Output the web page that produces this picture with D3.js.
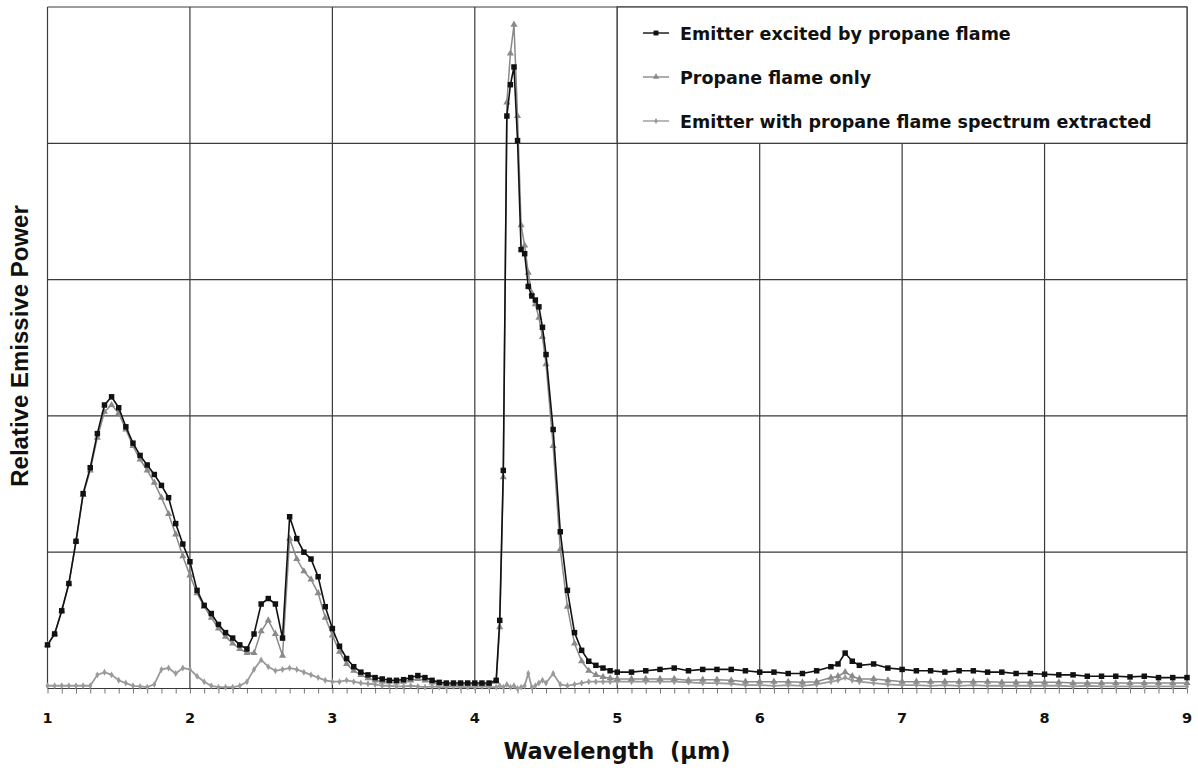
<!DOCTYPE html>
<html>
<head>
<meta charset="utf-8">
<script src="https://cdn.jsdelivr.net/npm/d3@7"></script>
<style>
  html, body { margin: 0; padding: 0; background: #fff; }
  svg { display: block; }
</style>
</head>
<body>
<svg id="chart" width="1198" height="774"></svg>
<script>
// ---------------- DATA ----------------
const wavelength = [
  1.00,1.05,1.10,1.15,1.20,1.25,1.30,1.35,1.40,1.45,1.50,1.55,1.60,1.65,1.70,1.75,1.80,1.85,1.90,1.95,
  2.00,2.05,2.10,2.15,2.20,2.25,2.30,2.35,2.40,2.45,2.50,2.55,2.60,2.65,2.70,2.75,2.80,2.85,2.90,2.95,
  3.00,3.05,3.10,3.15,3.20,3.25,3.30,3.35,3.40,3.45,3.50,3.55,3.60,3.65,3.70,3.75,3.80,3.85,3.90,3.95,
  4.00,4.05,4.10,4.15,4.175,4.20,4.225,4.25,4.275,4.30,4.325,4.35,4.375,4.40,4.425,4.45,4.475,4.50,
  4.55,4.60,4.65,4.70,4.75,4.80,4.85,4.90,4.95,5.00,
  5.10,5.20,5.30,5.40,5.50,5.60,5.70,5.80,5.90,6.00,6.10,6.20,6.30,6.40,6.50,6.55,6.60,6.65,
  6.70,6.80,6.90,7.00,7.10,7.20,7.30,7.40,7.50,7.60,7.70,7.80,7.90,8.00,8.10,8.20,8.30,8.40,8.50,
  8.60,8.70,8.80,8.90,9.00
];

const emitterValues = [
  0.32,0.40,0.57,0.77,1.08,1.43,1.62,1.87,2.08,2.14,2.06,1.92,1.80,1.71,1.64,1.57,1.49,1.40,1.21,1.06,
  0.93,0.72,0.61,0.55,0.47,0.41,0.37,0.32,0.29,0.40,0.62,0.66,0.62,0.37,1.26,1.10,1.00,0.95,0.82,0.60,
  0.44,0.31,0.22,0.16,0.12,0.10,0.08,0.07,0.06,0.06,0.065,0.08,0.095,0.08,0.06,0.045,0.04,0.04,0.04,0.04,
  0.04,0.04,0.04,0.06,0.50,1.60,4.20,4.43,4.56,4.02,3.22,3.19,2.95,2.88,2.85,2.80,2.65,2.45,
  1.90,1.15,0.72,0.41,0.28,0.20,0.17,0.15,0.13,0.12,
  0.12,0.13,0.14,0.15,0.13,0.14,0.14,0.14,0.13,0.12,0.12,0.11,0.11,0.13,0.16,0.18,0.26,0.20,
  0.17,0.18,0.15,0.14,0.13,0.13,0.12,0.13,0.13,0.12,0.12,0.11,0.11,0.105,0.10,0.10,0.09,0.09,0.09,
  0.085,0.09,0.08,0.08,0.08
];

const flameValues = [
  0.32,0.40,0.57,0.77,1.08,1.42,1.60,1.84,2.03,2.08,2.02,1.90,1.78,1.68,1.60,1.51,1.40,1.28,1.13,0.97,
  0.83,0.70,0.60,0.52,0.44,0.38,0.33,0.29,0.26,0.26,0.42,0.50,0.40,0.24,1.10,0.95,0.86,0.80,0.70,0.52,
  0.39,0.27,0.18,0.13,0.10,0.075,0.06,0.05,0.05,0.045,0.05,0.06,0.07,0.06,0.045,0.035,0.03,0.03,0.03,0.03,
  0.03,0.03,0.03,0.05,0.45,1.55,4.30,4.66,4.87,4.20,3.40,3.25,3.05,2.90,2.82,2.72,2.58,2.38,
  1.78,1.02,0.60,0.33,0.20,0.13,0.10,0.085,0.075,0.07,
  0.07,0.07,0.07,0.07,0.06,0.065,0.065,0.06,0.05,0.05,0.05,0.05,0.045,0.05,0.08,0.09,0.12,0.09,
  0.07,0.07,0.06,0.05,0.05,0.05,0.05,0.05,0.05,0.05,0.045,0.045,0.045,0.045,0.045,0.04,0.04,0.04,0.04,
  0.04,0.04,0.04,0.04,0.04
];

const extractedValues = [
  0.02,0.02,0.02,0.02,0.02,0.02,0.02,0.10,0.12,0.10,0.06,0.04,0.02,0.015,0.01,0.03,0.14,0.15,0.11,0.15,
  0.14,0.09,0.05,0.02,0.01,0.01,0.01,0.02,0.05,0.14,0.21,0.16,0.13,0.14,0.15,0.14,0.12,0.10,0.08,0.06,
  0.05,0.05,0.06,0.05,0.04,0.035,0.03,0.02,0.02,0.015,0.015,0.02,0.015,0.01,0.015,0.01,0.01,0.015,0.01,0.01,
  0.01,0.015,0.01,0.01,0.02,0.01,0.03,0.01,0.02,0.00,0.01,0.02,0.11,0.01,0.02,0.04,0.06,0.04,
  0.11,0.03,0.02,0.03,0.04,0.05,0.05,0.05,0.05,0.05,
  0.05,0.05,0.05,0.05,0.045,0.04,0.04,0.035,0.025,0.025,0.02,0.025,0.02,0.03,0.05,0.06,0.08,0.06,
  0.05,0.04,0.03,0.025,0.025,0.02,0.025,0.02,0.025,0.02,0.02,0.02,0.02,0.02,0.02,0.015,0.02,0.015,0.015,
  0.015,0.015,0.015,0.015,0.015
];

const xTickValues = [1,2,3,4,5,6,7,8,9];
const xTickLabels = ["1","2","3","4","5","6","7","8","9"];
const seriesNames = [
  "Emitter excited by propane flame",
  "Propane flame only",
  "Emitter with propane flame spectrum extracted"
];
const xTitle = "Wavelength  (\u00B5m)";
const yTitle = "Relative Emissive Power";

// ---------------- LAYOUT ----------------
(function draw() {
  const svg = d3.select("#chart");
  const W = 1198, H = 774;
  svg.append("rect").attr("width", W).attr("height", H).attr("fill", "#fff");

  const pL = 47.5, pR = 1187, pT = 7, pB = 688.5;
  const x = d3.scaleLinear().domain([1, 9]).range([pL, pR]);
  const y = d3.scaleLinear().domain([0, 5]).range([pB, pT]);

  const gridColor = "#3a3a3a";
  const g = svg.append("g");

  // minor ticks (every 0.1)
  const minor = d3.range(10, 91).map(d => d / 10);
  g.append("g")
    .attr("transform", `translate(0,${pB})`)
    .call(d3.axisBottom(x).tickValues(minor).tickSize(5).tickFormat(""))
    .call(s => s.select(".domain").remove())
    .call(s => s.selectAll("line").attr("stroke", "#777").attr("stroke-width", 1));

  // vertical grid lines
  g.append("g").selectAll("line").data(xTickValues).join("line")
    .attr("x1", d => x(d)).attr("x2", d => x(d))
    .attr("y1", pT).attr("y2", pB)
    .attr("stroke", gridColor).attr("stroke-width", 1.2);

  // horizontal grid lines
  g.append("g").selectAll("line").data([0, 1, 2, 3, 4, 5]).join("line")
    .attr("x1", pL).attr("x2", pR)
    .attr("y1", d => y(d)).attr("y2", d => y(d))
    .attr("stroke", gridColor).attr("stroke-width", 1.2);

  // x tick labels
  g.append("g").selectAll("text").data(xTickValues).join("text")
    .attr("x", d => x(d)).attr("y", 723)
    .attr("text-anchor", "middle")
    .attr("font-family", "DejaVu Sans, Verdana, sans-serif")
    .attr("font-weight", "bold").attr("font-size", 14.5)
    .attr("fill", "#111")
    .text((d, i) => xTickLabels[i]);

  // axis titles
  svg.append("text")
    .attr("x", 617).attr("y", 759)
    .attr("text-anchor", "middle")
    .attr("font-family", "DejaVu Sans, Verdana, sans-serif")
    .attr("font-weight", "bold").attr("font-size", 22.5)
    .attr("fill", "#111")
    .style("white-space", "pre")
    .text(xTitle);

  svg.append("text")
    .attr("transform", "translate(28,346) rotate(-90)")
    .attr("text-anchor", "middle")
    .attr("font-family", "Liberation Sans, Arial, sans-serif")
    .attr("font-weight", "bold").attr("font-size", 24)
    .attr("fill", "#111")
    .text(yTitle);

  // ---------------- SERIES ----------------
  const line = d3.line().x(d => x(d[0])).y(d => y(d[1]));
  const mk = vals => wavelength.map((w, i) => [w, vals[i]]);

  const series = [
    { name: seriesNames[2], data: mk(extractedValues), color: "#9a9a9a", lw: 1.8, marker: "diamond", size: 14 },
    { name: seriesNames[1], data: mk(flameValues), color: "#8a8a8a", lw: 1.5, marker: "triangle", size: 22 },
    { name: seriesNames[0], data: mk(emitterValues), color: "#111", lw: 1.6, marker: "square", size: 30 }
  ];
  const symType = { square: d3.symbolSquare, triangle: d3.symbolTriangle, diamond: d3.symbolDiamond };

  const plot = svg.append("g");
  series.forEach(s => {
    const sg = plot.append("g");
    sg.append("path").datum(s.data)
      .attr("d", line).attr("fill", "none")
      .attr("stroke", s.color).attr("stroke-width", s.lw);
    sg.selectAll("path.m").data(s.data).join("path")
      .attr("class", "m")
      .attr("transform", d => `translate(${x(d[0])},${y(d[1])})`)
      .attr("d", d3.symbol().type(symType[s.marker]).size(s.size))
      .attr("fill", s.color);
  });

  // ---------------- LEGEND ----------------
  const leg = svg.append("g");
  leg.append("rect")
    .attr("x", x(5)).attr("y", y(5))
    .attr("width", x(9) - x(5)).attr("height", y(4) - y(5))
    .attr("fill", "#fff").attr("stroke", gridColor).attr("stroke-width", 1.2);

  const legItems = [series[2], series[1], series[0]];
  legItems.forEach((s, i) => {
    const yy = 33 + i * 44;
    leg.append("line").attr("x1", 643).attr("x2", 669).attr("y1", yy).attr("y2", yy)
      .attr("stroke", s.color).attr("stroke-width", 1.4);
    leg.append("path").attr("transform", `translate(656,${yy})`)
      .attr("d", d3.symbol().type(symType[s.marker]).size(s.size * 0.8)).attr("fill", s.color);
    leg.append("text").attr("x", 680).attr("y", yy + 6.5)
      .attr("font-family", "DejaVu Sans, Verdana, sans-serif")
      .attr("font-weight", "bold").attr("font-size", 17.5)
      .attr("fill", "#111")
      .text(s.name);
  });
})();
</script>
</body>
</html>
